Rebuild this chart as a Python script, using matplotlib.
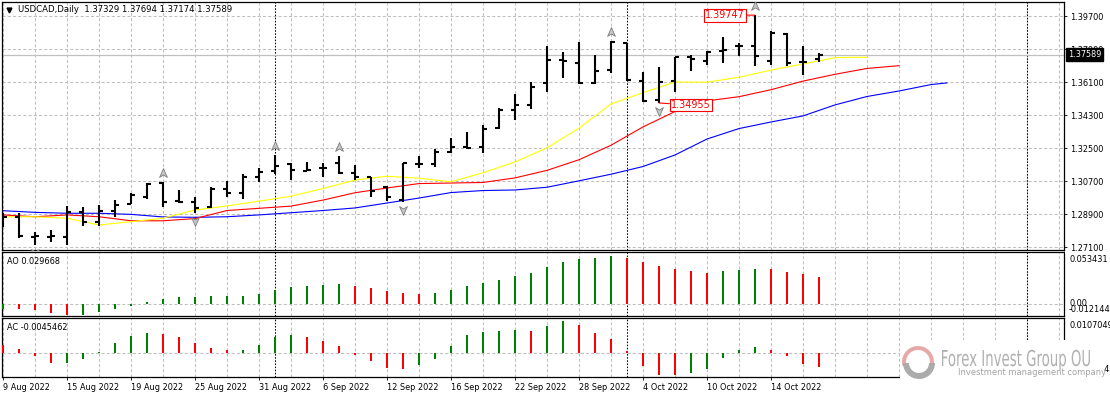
import numpy as np
import matplotlib
matplotlib.use("Agg")
import matplotlib.pyplot as plt
import matplotlib.transforms as mtransforms
from matplotlib.patches import Rectangle, Wedge, PathPatch
from matplotlib.textpath import TextPath
from matplotlib.font_manager import FontProperties

# ---- data (USDCAD daily, 9 Aug - 19 Oct 2022) ----
date_labels = ["9 Aug 2022", "15 Aug 2022", "19 Aug 2022", "25 Aug 2022", "31 Aug 2022",
               "6 Sep 2022", "12 Sep 2022", "16 Sep 2022", "22 Sep 2022", "28 Sep 2022",
               "4 Oct 2022", "10 Oct 2022", "14 Oct 2022"]

opens = [1.2890, 1.2875, 1.2762, 1.2765, 1.2766, 1.2899, 1.2848, 1.2908, 1.2945, 1.2984,
         1.3061, 1.2960, 1.2957, 1.2926, 1.3026, 1.3006, 1.3094, 1.3126, 1.3163, 1.3126,
         1.3143, 1.3167, 1.3115, 1.3090, 1.3036, 1.2966, 1.3163, 1.3163, 1.3228, 1.3257,
         1.3254, 1.3361, 1.3457, 1.3485, 1.3603, 1.3732, 1.3715, 1.3606, 1.3675, 1.3821,
         1.3617, 1.3512, 1.3617, 1.3745, 1.3726, 1.3781, 1.3806, 1.3806, 1.3726, 1.3872,
         1.3719, 1.37329]
highs = [1.2895, 1.2895, 1.2792, 1.2803, 1.2934, 1.2930, 1.2939, 1.2966, 1.3006, 1.3061,
         1.3066, 1.3021, 1.2981, 1.3039, 1.3070, 1.3108, 1.3139, 1.3212, 1.3167, 1.3175,
         1.3170, 1.3206, 1.3157, 1.3090, 1.3043, 1.3170, 1.3208, 1.3243, 1.3303, 1.3339,
         1.3375, 1.3466, 1.3545, 1.3612, 1.3808, 1.3772, 1.3826, 1.3757, 1.3834, 1.3821,
         1.3666, 1.3694, 1.3748, 1.3757, 1.3781, 1.3854, 1.3825, 1.39747, 1.3890, 1.3876,
         1.3808, 1.37694]
lows = [1.2819, 1.2759, 1.2721, 1.2737, 1.2721, 1.2825, 1.2825, 1.2875, 1.2945, 1.2972,
        1.2930, 1.2948, 1.2894, 1.2921, 1.2981, 1.2970, 1.3063, 1.3108, 1.3076, 1.3126,
        1.3094, 1.3108, 1.3076, 1.2984, 1.2963, 1.2957, 1.3139, 1.3148, 1.3221, 1.3245,
        1.3221, 1.3352, 1.3403, 1.3463, 1.3554, 1.3634, 1.3599, 1.3599, 1.3657, 1.3617,
        1.3503, 1.34955, 1.3557, 1.3672, 1.3703, 1.3712, 1.3754, 1.3699, 1.3703, 1.3699,
        1.3648, 1.37174]
closes = [1.2875, 1.2770, 1.2768, 1.2770, 1.2903, 1.2848, 1.2908, 1.2939, 1.2994, 1.3052,
          1.2957, 1.2958, 1.2921, 1.3026, 1.3003, 1.3090, 1.3121, 1.3154, 1.3130, 1.3130,
          1.3143, 1.3115, 1.3090, 1.3017, 1.2984, 1.3170, 1.3163, 1.3230, 1.3257, 1.3248,
          1.3354, 1.3457, 1.3485, 1.3581, 1.3730, 1.3725, 1.3603, 1.3672, 1.3827, 1.3621,
          1.3508, 1.3612, 1.3745, 1.3734, 1.3775, 1.3785, 1.3806, 1.3754, 1.3876, 1.3715,
          1.3721, 1.37589]

# Alligator lines, sampled every second bar (they run past the last bar)
jaw_idx = list(range(0, 60, 2)) + [59]
jaw = [1.2908, 1.2899, 1.2894, 1.2894, 1.2888, 1.2874, 1.2872, 1.2875, 1.2885, 1.2897,
       1.2909, 1.2923, 1.2950, 1.2977, 1.3007, 1.3018, 1.3021, 1.3036, 1.3071, 1.3107,
       1.3149, 1.3212, 1.3299, 1.3356, 1.3392, 1.3425, 1.3485, 1.3531, 1.3561, 1.3596,
       1.3605]
teeth_idx = list(range(0, 57, 2))
teeth = [1.2885, 1.2875, 1.2885, 1.2875, 1.2853, 1.2853, 1.2865, 1.2909, 1.2921, 1.2933,
         1.2966, 1.3006, 1.3032, 1.3056, 1.3059, 1.3062, 1.3087, 1.3128, 1.3186, 1.3265,
         1.3365, 1.3449, 1.3507, 1.3530, 1.3568, 1.3615, 1.3652, 1.3684, 1.3699]
lips_idx = list(range(0, 55, 2))
lips = [1.2875, 1.2875, 1.2867, 1.2830, 1.2848, 1.2867, 1.2912, 1.2934, 1.2960, 1.2987,
        1.3029, 1.3075, 1.3096, 1.3085, 1.3066, 1.3115, 1.3174, 1.3251, 1.3358, 1.3490,
        1.3552, 1.3610, 1.3609, 1.3636, 1.3675, 1.3708, 1.3743, 1.3745]

up_fractals = [10, 17, 21, 38, 47]
down_fractals = [2, 12, 25, 41]
label_high_bar = 47
label_low_bar = 41
separators = [17, 39, 64]
price_ticks = [1.397, 1.379, 1.361, 1.343, 1.325, 1.307, 1.289, 1.271]
bid = 1.37589

ao_vals = [-0.0048, -0.0052, -0.0066, -0.0096, -0.012144, -0.0116, -0.0085, -0.0052, -0.0019, 0.0025,
           0.0062, 0.0084, 0.0085, 0.0086, 0.0087, 0.0095, 0.0117, 0.0161, 0.0194, 0.0205,
           0.0216, 0.0227, 0.0205, 0.0183, 0.0150, 0.0128, 0.0117, 0.0128, 0.0161, 0.0205,
           0.0238, 0.0271, 0.0315, 0.0348, 0.0414, 0.0469, 0.0502, 0.0513, 0.053431, 0.0513,
           0.0469, 0.0425, 0.0392, 0.0370, 0.0348, 0.0370, 0.0381, 0.0392, 0.0390, 0.0360,
           0.0335, 0.029668]
ac_vals = [0.0026, 0.0014, -0.0009, -0.0032, -0.0031, -0.0019, 0.0004, 0.0034, 0.0057, 0.0067,
           0.0064, 0.0054, 0.0034, 0.0017, 0.0011, 0.0012, 0.0027, 0.0054, 0.0060, 0.0054,
           0.0041, 0.0024, -0.0006, -0.0025, -0.0049, -0.0052, -0.0039, -0.0019, 0.0024, 0.0060,
           0.0070, 0.0074, 0.0077, 0.0074, 0.0090, 0.0107049, 0.0093, 0.0067, 0.0047, 0.0008,
           -0.0042, -0.0071, -0.0072944, -0.0065, -0.0052, -0.0016, 0.0011, 0.0021, 0.0011, -0.0009,
           -0.0035, -0.0045462]

# ---- figure in pixel terms ----
W, H = 1110, 398
plt.rcParams["font.family"] = "DejaVu Sans"
fig = plt.figure(figsize=(W / 100, H / 100), dpi=100)
FS = 5.9
GRID = "#c0c0c0"
GREEN, RED = "#008000", "#ff0000"


def px_axes(x0, y0, x1, y1):
    return fig.add_axes([x0 / W, 1 - y1 / H, (x1 - x0) / W, (y1 - y0) / H])


ax = px_axes(2, 2, 1064, 250.3)
ao_ax = px_axes(2, 252, 1064, 316.3)
ac_ax = px_axes(2, 318, 1064, 377.3)

n = np.arange(len(closes))
for a in (ax, ao_ax, ac_ax):
    a.set_xlim(-1 / 16, 1061 / 16)
    for k in range(0, 67, 2):
        a.axvline(k, color=GRID, lw=0.75, dashes=(3, 2), zorder=0)
    for s in separators:
        a.axvline(s, color="black", lw=0.75, dashes=(1.5, 1.5), zorder=1)
    for sp in a.spines.values():
        sp.set_color("black")
        sp.set_linewidth(0.9)
    a.tick_params(axis="both", labelsize=FS, colors="black")

# main price panel
ax.set_ylim(1.26920, 1.40464)
for p in price_ticks:
    ax.axhline(p, color=GRID, lw=0.75, dashes=(3, 2), zorder=0)
ax.axhline(bid, color="#c0c0c0", lw=0.9, zorder=1)

ax.plot(jaw_idx, jaw, color="#0000ff", lw=0.8, zorder=2)
ax.plot(teeth_idx, teeth, color="#ff0000", lw=0.8, zorder=2)
ax.plot(lips_idx, lips, color="#ffff00", lw=0.8, zorder=2)

ax.vlines(n, lows, highs, color="black", lw=1.5, zorder=3)
ax.hlines(opens, n - 0.27, n, color="black", lw=1.5, zorder=3)
ax.hlines(closes, n, n + 0.27, color="black", lw=1.5, zorder=3)

up_mark = [(0, 1), (0.8, -0.8), (0, -0.3), (-0.8, -0.8), (0, 1)]
down_mark = [(x, -y) for x, y in up_mark]
tr_up = mtransforms.offset_copy(ax.transData, fig=fig, x=0, y=9, units="dots")
tr_dn = mtransforms.offset_copy(ax.transData, fig=fig, x=0, y=-8, units="dots")
ax.plot(up_fractals, [highs[i] for i in up_fractals], ls="none", marker=up_mark, ms=7,
        mfc="#c4c8cc", mec="#7c7c7c", mew=0.6, transform=tr_up, zorder=4)
ax.plot(down_fractals, [lows[i] for i in down_fractals], ls="none", marker=down_mark, ms=7,
        mfc="#c4c8cc", mec="#7c7c7c", mew=0.6, transform=tr_dn, zorder=4)

box = dict(boxstyle="square,pad=0.15", fc="white", ec=RED, lw=0.8)
arrow = dict(arrowstyle="-", color=RED, lw=0.8, shrinkA=0, shrinkB=0)
hb, lb = label_high_bar, label_low_bar
ax.annotate(f"{highs[hb]:.5f}", xy=(hb, highs[hb]), xytext=(-10, 0),
            textcoords="offset pixels", ha="right", va="center", color=RED,
            fontsize=6.9, bbox=box, arrowprops=arrow, zorder=6)
ax.annotate(f"{lows[lb]:.5f}", xy=(lb, lows[lb]), xytext=(12, -2),
            textcoords="offset pixels", ha="left", va="center", color=RED,
            fontsize=6.9, bbox=box, arrowprops=arrow, zorder=6)

ax.yaxis.tick_right()
ax.set_yticks(price_ticks)
ax.set_yticklabels([f"{p:.5f}" for p in price_ticks])
ax.tick_params(axis="y", direction="out", length=2.2, width=0.6, pad=2)
ax.set_xticks([])

bid_tr = mtransforms.offset_copy(mtransforms.blended_transform_factory(ax.transAxes, ax.transData),
                                 fig=fig, x=4, y=0, units="dots")
ax.text(1.0, bid, f"{bid:.5f}", transform=bid_tr, ha="left", va="center", color="white",
        fontsize=FS, bbox=dict(boxstyle="square,pad=0.25", fc="black", ec="black"),
        zorder=20, clip_on=False)


# Awesome Oscillator panel
def bar_colors(vals, first):
    return [first] + [GREEN if v > p else RED for p, v in zip(vals[:-1], vals[1:])]


ao_ax.set_ylim(-0.0132, 0.05753)
ao_ax.axhline(0, color=GRID, lw=0.75, dashes=(3, 2), zorder=0)
ao_ax.bar(n, ao_vals, width=0.14, color=bar_colors(ao_vals, GREEN), zorder=3)
ao_ax.set_xticks([])
ao_ax.set_yticks([])

# Accelerator Oscillator panel
ac_ax.set_ylim(-0.00792, 0.01165)
ac_ax.axhline(0, color=GRID, lw=0.75, dashes=(3, 2), zorder=0)
ac_ax.bar(n, ac_vals, width=0.14, color=bar_colors(ac_vals, RED), zorder=3)
ac_ax.set_yticks([])
ac_ax.set_xticks(range(0, len(closes), 4))
ac_ax.set_xticklabels(date_labels, ha="left")
ac_ax.tick_params(axis="x", direction="out", length=2.2, width=0.6, pad=2)

# ---- overlay in pixel coordinates: captions, side labels, watermark ----
ov = fig.add_axes([0, 0, 1, 1], zorder=10)
ov.set_xlim(0, W)
ov.set_ylim(H, 0)
ov.axis("off")
ov.patch.set_alpha(0)

ov.plot(9, 9.5, marker="v", color="black", ms=3.5)
ov.text(18, 10, f"USDCAD,Daily  {opens[-1]:.5f} {highs[-1]:.5f} {lows[-1]:.5f} {closes[-1]:.5f}",
        fontsize=6.1, va="center", ha="left", color="black")
ov.text(7, 262, f"AO {ao_vals[-1]:.6f}", fontsize=FS, va="center", color="black")
ov.text(7, 327, f"AC {ac_vals[-1]:.7f}", fontsize=FS, va="center", color="black")

ov.add_patch(Rectangle((1065, 250.6), 45, 3.2, fc="white", ec="none", zorder=5))
ov.text(1069, 260, f"{max(ao_vals):.6f}", fontsize=FS, va="center", zorder=4)
ov.text(1069, 303.5, "0.00", fontsize=FS, va="center", zorder=4)
ov.text(1069, 309.5, f"{min(ao_vals):.6f}", fontsize=FS, va="center", zorder=4)
ov.text(1069, 325.5, f"{max(ac_vals):.7f}", fontsize=FS, va="center", zorder=4)
ov.text(1069, 370, f"{min(ac_vals):.7f}", fontsize=FS, va="center", zorder=4)

# watermark (white plate, ring logo, condensed caption) drawn over the chart
ov.add_patch(Rectangle((900, 340), 203.5, 58, fc="white", ec="none", zorder=6))
ov.add_patch(Wedge((918, 362), 16, 165, 365, width=4, fc="#e6a9a9", ec="none", zorder=7))
ov.add_patch(Wedge((919, 363), 16, 0, 180, width=6, fc="#ababab", ec="none", zorder=7))

title_path = TextPath((0, 0), "Forex Invest Group OU", size=1,
                      prop=FontProperties(family="DejaVu Sans"))
ext = title_path.get_extents()
sx = 148 / ext.width
sy = 16 / 0.729
title_tf = mtransforms.Affine2D().translate(-ext.x0, 0).scale(sx, -sy).translate(942, 366) + ov.transData
ov.add_patch(PathPatch(title_path, fc="#b0b0b0", ec="none", transform=title_tf, zorder=7))
ov.text(958, 372.5, "Investment management company", fontsize=6.0, color="#a3a3a3",
        va="center", ha="left", zorder=8)

fig.savefig("out.png", dpi=100)
